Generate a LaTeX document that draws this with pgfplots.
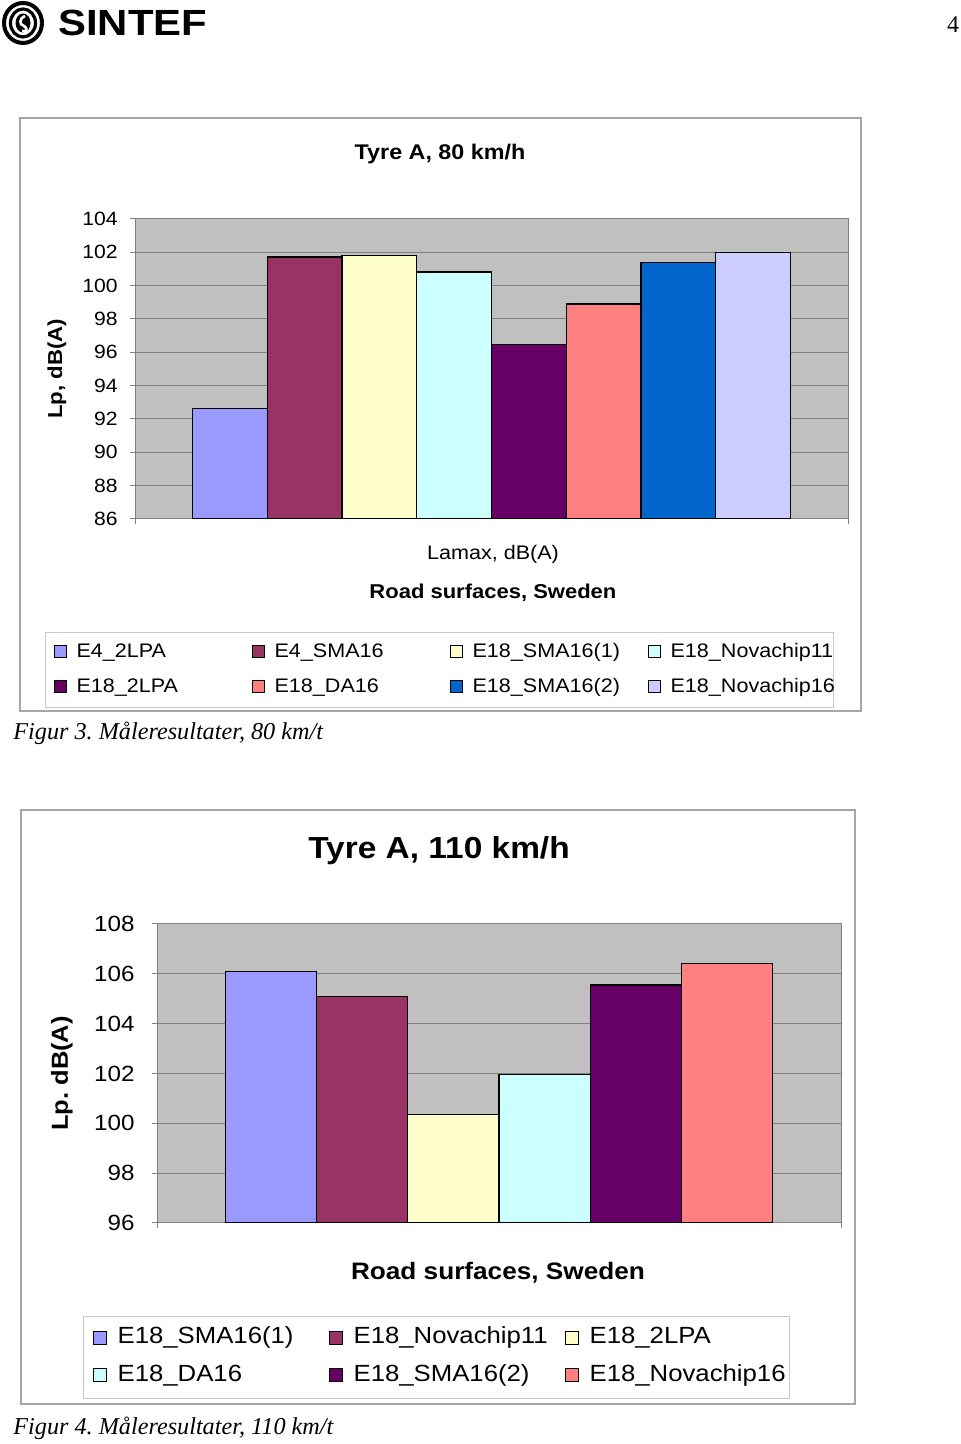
\documentclass[border=0pt]{standalone}
\usepackage{pgfplots}
\pgfplotsset{compat=1.18}
\usepackage{fontspec}
\setmainfont{Liberation Sans}[FakeStretch=1.1]
\newfontfamily\seriffont{Liberation Serif}
\definecolor{cA}{HTML}{9999FF}
\definecolor{cB}{HTML}{993366}
\definecolor{cC}{HTML}{FFFFCC}
\definecolor{cD}{HTML}{CCFFFF}
\definecolor{cE}{HTML}{660066}
\definecolor{cF}{HTML}{FF8080}
\definecolor{cG}{HTML}{0066CC}
\definecolor{cH}{HTML}{CCCCFF}
\definecolor{plotbg}{HTML}{C0C0C0}
\definecolor{gridc}{HTML}{808080}
\definecolor{framec}{HTML}{A6A6A6}
\definecolor{legframe}{HTML}{C8C8C8}
\pgfplotsset{
  excelbar/.style={
    ybar, bar width=1, bar shift=0pt,
    scale only axis, anchor=south west,
    axis background/.style={fill=plotbg},
    axis line style={draw=gridc, line width=0.5pt},
    ymajorgrids, grid style={draw=gridc, line width=0.5pt},
    tick align=outside, tick pos=left, major tick length=2.5pt,
    tick style={draw=gridc, line width=0.5pt},
    xticklabels={},
    every axis title shift=0pt,
    /pgf/number format/assume math mode=true,
    legend cell align=left,
  },
  barsq/.style={fill=#1, draw=black, line width=0.6pt,
    legend image code/.code={\draw[##1, line width=0.5pt] (0pt,-2.5pt) rectangle (6pt,3.5pt);}},
  barsqb/.style={fill=#1, draw=black, line width=0.6pt,
    legend image code/.code={\draw[##1, line width=0.5pt] (0pt,-2.8pt) rectangle (6.5pt,3.7pt);}},
}
\newcommand\leA[2]{\addlegendentry{\makebox[#1][l]{\hspace{5pt}#2}}}
\newcommand\leB[2]{\addlegendentry{\makebox[#1][l]{\hspace{5.5pt}#2}}}
\begin{document}
\frenchspacing
\begin{tikzpicture}[x=0.5pt, y=0.5pt]
\path[use as bounding box] (0,0) rectangle (960,1444);

% ---------- Chart 1 ----------
\draw[framec, line width=0.6pt, fill=white] (20,733) rectangle (861,1326);
\begin{axis}[excelbar,
  at={(67.5pt,462.5pt)}, width=356.5pt, height=150pt,
  xmin=-0.272, xmax=9.272, ymin=86, ymax=104, ytick={86,88,...,104},
  xtick={-0.272,9.272},
  ticklabel style={font=\fontsize{9.6}{10}\selectfont},
  yticklabel style={inner xsep=0pt, xshift=-6pt},
  title={Tyre A, 80 km/h},
  title style={at={(axis description cs:0.4278,1.2167)}, anchor=center, font=\fontsize{10.6}{12}\selectfont\bfseries},
  xlabel={Road surfaces, Sweden},
  xlabel style={at={(axis description cs:0.502,-0.2467)}, anchor=center, font=\fontsize{10}{12}\selectfont\bfseries},
  ylabel={Lp, dB(A)},
  ylabel style={at={(axis description cs:-0.1094,0.5)}, anchor=center, font=\fontsize{10.1}{12}\selectfont\bfseries},
  legend columns=4,
  legend style={at={(axis description cs:-0.1262,-0.3767)}, anchor=north west,
    draw=legframe, fill=white, line width=0.6pt, inner xsep=4pt, inner ysep=4.9pt,
    column sep=0pt, row sep=7.7pt, font=\fontsize{9.8}{10}\selectfont,
    nodes={inner sep=0pt, text height=0.75em, text depth=0.25em}},
]
\addplot[barsq=cA] coordinates {(1,92.63)}; \leA{92.5pt}{E4\_2LPA}
\addplot[barsq=cB] coordinates {(2,101.72)}; \leA{92.5pt}{E4\_SMA16}
\addplot[barsq=cC] coordinates {(3,101.80)}; \leA{92.5pt}{E18\_SMA16(1)}
\addplot[barsq=cD] coordinates {(4,100.82)}; \leA{82.5pt}{E18\_Novachip11}
\addplot[barsq=cE] coordinates {(5,96.46)}; \leA{92.5pt}{E18\_2LPA}
\addplot[barsq=cF] coordinates {(6,98.90)}; \leA{92.5pt}{E18\_DA16}
\addplot[barsq=cG] coordinates {(7,101.37)}; \leA{92.5pt}{E18\_SMA16(2)}
\addplot[barsq=cH] coordinates {(8,102.00)}; \leA{82.5pt}{E18\_Novachip16}
\end{axis}
\node[font=\fontsize{9.8}{12}\selectfont] at (493,890) {Lamax, dB(A)};
\node[anchor=base west, inner sep=0pt, font=\seriffont\itshape\fontsize{12.1}{14}\selectfont] at (13,704) {Figur 3. Måleresultater, 80 km/t};

% ---------- Chart 2 ----------
\draw[framec, line width=0.6pt, fill=white] (21,40) rectangle (855,634);
\begin{axis}[excelbar,
  at={(78.5pt,110.5pt)}, width=342pt, height=149.5pt,
  xmin=-0.251, xmax=7.251, ymin=96, ymax=108, ytick={96,98,...,108},
  xtick={-0.251,7.251},
  ticklabel style={font=\fontsize{11}{12}\selectfont},
  yticklabel style={inner xsep=0pt, xshift=-8.5pt},
  title={Tyre A, 110 km/h},
  title style={at={(axis description cs:0.4123,1.2441)}, anchor=center, font=\fontsize{15.2}{17}\selectfont\bfseries},
  xlabel={Road surfaces, Sweden},
  xlabel style={at={(axis description cs:0.4985,-0.1672)}, anchor=center, font=\fontsize{11.9}{14}\selectfont\bfseries},
  ylabel={Lp. dB(A)},
  ylabel style={at={(axis description cs:-0.1389,0.5)}, anchor=center, font=\fontsize{11.6}{14}\selectfont\bfseries},
  legend columns=3,
  legend style={at={(axis description cs:-0.1082,-0.311)}, anchor=north west,
    draw=legframe, fill=white, line width=0.6pt, inner xsep=4.5pt, inner ysep=6.1pt,
    column sep=0pt, row sep=8.8pt, font=\fontsize{11.7}{12}\selectfont,
    nodes={inner sep=0pt, text height=0.75em, text depth=0.25em}},
]
\addplot[barsqb=cA] coordinates {(1,106.10)}; \leB{111pt}{E18\_SMA16(1)}
\addplot[barsqb=cB] coordinates {(2,105.10)}; \leB{111pt}{E18\_Novachip11}
\addplot[barsqb=cC] coordinates {(3,100.36)}; \leB{101pt}{E18\_2LPA}
\addplot[barsqb=cD] coordinates {(4,101.95)}; \leB{111pt}{E18\_DA16}
\addplot[barsqb=cE] coordinates {(5,105.55)}; \leB{111pt}{E18\_SMA16(2)}
\addplot[barsqb=cF] coordinates {(6,106.40)}; \leB{101pt}{E18\_Novachip16}
\end{axis}
\node[anchor=base west, inner sep=0pt, font=\seriffont\itshape\fontsize{12.1}{14}\selectfont] at (13,10) {Figur 4. Måleresultater, 110 km/t};

% ---------- Header ----------
\draw[line width=2pt] (23,1421) ellipse (19 and 20);
\draw[line width=1.6pt] (23,1421) ellipse (12.5 and 14);
\fill (23,1421) ellipse (7.5 and 9.5);
\draw[white, line width=1.3pt] (25,1428) .. controls (19,1426) and (19,1419) .. (24,1418) .. controls (28,1416) and (27,1411) .. (22,1413);
\node[anchor=west, inner sep=0pt, font=\fontsize{18.2}{20}\selectfont\bfseries] at (58,1421) {\addfontfeature{FakeStretch=1.15}SINTEF};
\node[anchor=base, inner sep=0pt, font=\seriffont\fontsize{12}{14}\selectfont] at (953,1411) {4};
\end{tikzpicture}
\end{document}
